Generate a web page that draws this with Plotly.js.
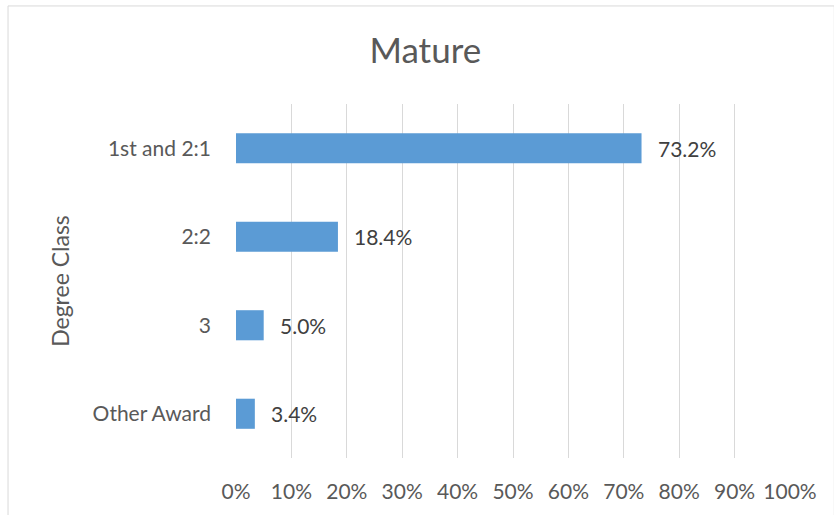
<!DOCTYPE html>
<html>
<head>
<meta charset="utf-8">
<script src="https://cdn.plot.ly/plotly-3.0.1.min.js"></script>
<style>
  body { margin: 0; background: #fff; }
  #graph { width: 834px; height: 515px; }
</style>
</head>
<body>
<div id="graph"></div>
<script>
// degree classes, top to bottom as in the chart
const categories = ['1st and 2:1', '2:2', '3', 'Other Award'];
const shares = [0.732, 0.184, 0.050, 0.034];
const tickVals = [0, 0.1, 0.2, 0.3, 0.4, 0.5, 0.6, 0.7, 0.8, 0.9, 1.0];
const tickLabels = ['0%', '10%', '20%', '30%', '40%', '50%', '60%', '70%', '80%', '90%', '100%'];

const FONT = 'Lato, "Open Sans", sans-serif';

var bars = {
    type: 'bar',
    orientation: 'h',
    x: shares,
    y: categories,
    width: 0.34,
    marker: {color: '#5b9bd5'},
    hoverinfo: 'none'
};

// value labels to the right of each bar (y given as category index,
// otherwise the label "3" is read as position 3)
var labels = [];
for (let i = 0; i < categories.length; i++) {
    labels.push({
        x: shares[i],
        y: i,
        text: (shares[i] * 100).toFixed(1) + '%',
        xanchor: 'left',
        xshift: 14,
        showarrow: false,
        font: {family: FONT, size: 21, color: '#404040'}
    });
}

var layout = {
    width: 834,
    height: 515,
    margin: {l: 236, r: 44, t: 104, b: 57},
    paper_bgcolor: '#fff',
    plot_bgcolor: '#fff',
    showlegend: false,
    font: {family: FONT, color: '#595959'},
    title: {
        text: 'Mature',
        font: {family: FONT, size: 35, color: '#595959'},
        x: 0.51,
        xanchor: 'center',
        y: 0.902,
        yanchor: 'middle'
    },
    xaxis: {
        range: [0, 1],
        tickmode: 'array',
        tickvals: tickVals,
        ticktext: tickLabels,
        showgrid: true,
        gridcolor: '#d9d9d9',
        gridwidth: 1,
        zeroline: false,
        showline: false,
        ticks: '',
        ticklabelstandoff: 19,
        tickfont: {family: FONT, size: 21, color: '#595959'},
        fixedrange: true
    },
    yaxis: {
        autorange: 'reversed',
        type: 'category',
        showgrid: false,
        zeroline: false,
        showline: false,
        ticks: '',
        ticklabelstandoff: 24,
        tickfont: {family: FONT, size: 21, color: '#595959'},
        title: {
            text: 'Degree Class',
            font: {family: FONT, size: 23, color: '#595959'},
            standoff: 16
        },
        automargin: false,
        fixedrange: true
    },
    annotations: labels,
    shapes: [{
        type: 'rect',
        xref: 'paper', yref: 'paper',
        x0: -0.4115, x1: 1.08,
        y0: -0.2, y1: 1.277,
        line: {color: '#d9d9d9', width: 1},
        fillcolor: 'rgba(0,0,0,0)',
        layer: 'below'
    }]
};

Plotly.newPlot('graph', [bars], layout, {displayModeBar: false, staticPlot: true});
</script>
</body>
</html>
